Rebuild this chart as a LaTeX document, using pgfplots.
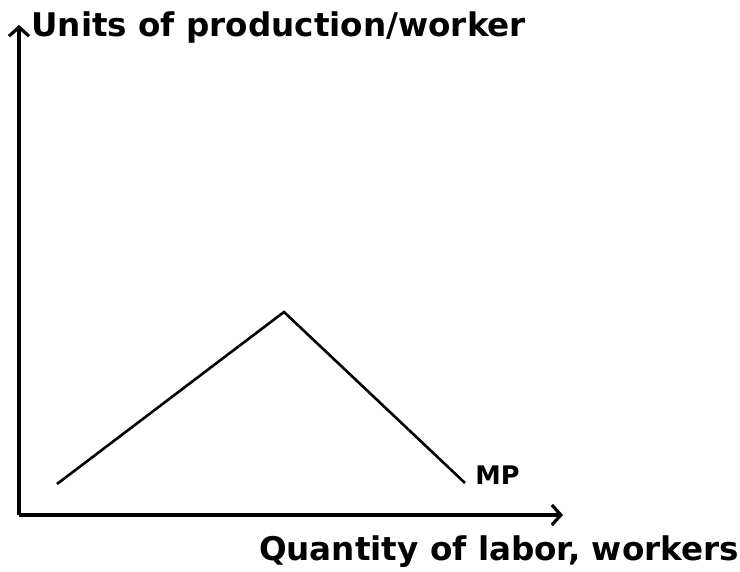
\documentclass[border=0pt]{standalone}
\usepackage{fontspec}
\setmainfont{DejaVu Sans}
\usepackage{pgfplots}
\pgfplotsset{compat=1.18}
\usetikzlibrary{arrows.meta}

\begin{document}
\begin{tikzpicture}
\begin{axis}[
    x=0.5pt, y=0.5pt,
    xmin=19, xmax=563, ymin=57, ymax=547,
    axis lines=left,
    axis line style={line width=2pt, -{Straight Barb[length=4.5pt,width=10pt,line width=1.6pt]}},
    xtick=\empty, ytick=\empty,
    clip=false,
    font=\bfseries\fontsize{16.3}{19}\selectfont,
]
\addplot[black, line width=1.3pt] coordinates {(57,88) (284,260) (465,89)};
\node[anchor=west, inner sep=0pt, font=\bfseries\fontsize{12.8}{15}\selectfont] at (axis cs:475,97) {MP};
\node[anchor=west, inner sep=0pt] at (axis cs:31,544) {Units of production/worker};
\node[anchor=center, inner sep=0pt] at (axis cs:499,20) {Quantity of labor, workers};
\path[use as bounding box] (axis cs:0,0) rectangle (axis cs:740,572);
\end{axis}
\end{tikzpicture}
\end{document}
